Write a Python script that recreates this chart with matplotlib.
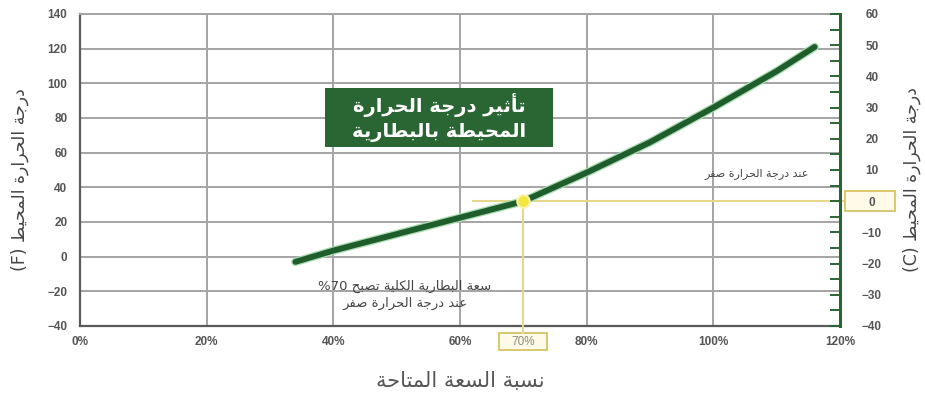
import matplotlib
matplotlib.use('Agg')
import matplotlib.pyplot as plt
import matplotlib.patheffects as pe
from matplotlib.patches import Rectangle
from matplotlib.transforms import blended_transform_factory
from matplotlib.ticker import MultipleLocator

# available capacity (%) vs ambient temperature (F)
capacity = [34, 40, 50, 60, 70, 80, 90, 100, 110, 116]
temp_f = [-3, 3.5, 13, 22.5, 32, 48.5, 66, 86, 107, 121]

x_ticks = [0, 20, 40, 60, 80, 100, 120]
f_ticks = list(range(-40, 141, 20))
c_ticks = list(range(-40, 61, 10))

mark_capacity = 70
mark_temp_c = 0
mark_temp_f = mark_temp_c * 9 / 5 + 32

title_lines = ['تأثير درجة الحرارة', 'المحيطة بالبطارية']
ylabel_f = 'درجة الحرارة المحيط (F)'
ylabel_c = 'درجة الحرارة المحيط (C)'
xlabel = 'نسبة السعة المتاحة'
note_right = 'عند درجة الحرارة صفر'
note_low = ['سعة البطارية الكلية تصبح %70', 'عند درجة الحرارة صفر']

# --- minimal arabic shaping (matplotlib has no bidi/joining) ---
# letter -> (first presentation form, number of forms)
FORMS = {
    '\u0621': (0xFE80, 1), '\u0622': (0xFE81, 2), '\u0623': (0xFE83, 2), '\u0624': (0xFE85, 2),
    '\u0625': (0xFE87, 2), '\u0626': (0xFE89, 4), '\u0627': (0xFE8D, 2), '\u0628': (0xFE8F, 4),
    '\u0629': (0xFE93, 2), '\u062A': (0xFE95, 4), '\u062B': (0xFE99, 4), '\u062C': (0xFE9D, 4),
    '\u062D': (0xFEA1, 4), '\u062E': (0xFEA5, 4), '\u062F': (0xFEA9, 2), '\u0630': (0xFEAB, 2),
    '\u0631': (0xFEAD, 2), '\u0632': (0xFEAF, 2), '\u0633': (0xFEB1, 4), '\u0634': (0xFEB5, 4),
    '\u0635': (0xFEB9, 4), '\u0636': (0xFEBD, 4), '\u0637': (0xFEC1, 4), '\u0638': (0xFEC5, 4),
    '\u0639': (0xFEC9, 4), '\u063A': (0xFECD, 4), '\u0641': (0xFED1, 4), '\u0642': (0xFED5, 4),
    '\u0643': (0xFED9, 4), '\u0644': (0xFEDD, 4), '\u0645': (0xFEE1, 4), '\u0646': (0xFEE5, 4),
    '\u0647': (0xFEE9, 4), '\u0648': (0xFEED, 2), '\u0649': (0xFEEF, 2), '\u064A': (0xFEF1, 4),
}
LAM_ALEF = {'\u0622': 0xFEF5, '\u0623': 0xFEF7, '\u0625': 0xFEF9, '\u0627': 0xFEFB}


def shape_word(word):
    out = []
    i = 0
    while i < len(word):
        ch = word[i]
        if ch not in FORMS:
            out.append(ch)
            i += 1
            continue
        prev = word[i - 1] if i > 0 else None
        nxt = word[i + 1] if i + 1 < len(word) else None
        joins_prev = prev in FORMS and FORMS[prev][1] == 4
        if ch == '\u0644' and nxt in LAM_ALEF:
            out.append(chr(LAM_ALEF[nxt] + (1 if joins_prev else 0)))
            i += 2
            continue
        base, n = FORMS[ch]
        joins_next = n == 4 and nxt in FORMS and FORMS[nxt][1] > 1
        if n == 1:
            off = 0
        elif joins_prev and joins_next:
            off = 3
        elif joins_next:
            off = 2
        elif joins_prev:
            off = 1
        else:
            off = 0
        out.append(chr(base + off))
        i += 1
    return ''.join(out)


def ar(text):
    words = []
    for w in reversed(text.split(' ')):
        if any(c in FORMS for c in w):
            words.append(shape_word(w)[::-1])
        else:
            words.append(w)
    return ' '.join(words)


GREEN = '#2a6634'
GRID = '#a4a4a4'
TICK_COLOR = '#555555'

plt.rcParams['font.family'] = ['DejaVu Sans']

fig = plt.figure(figsize=(9.25, 3.97), dpi=100)
ax = fig.add_axes([80 / 925, 1 - 326 / 397, 760 / 925, 312 / 397])
ax.set_xlim(0, 120)
ax.set_ylim(-40, 140)
ax.set_xticks(x_ticks)
ax.set_xticklabels([f'{v}%' for v in x_ticks])
ax.set_yticks(f_ticks)
ax.grid(color=GRID, lw=1.4)
ax.set_axisbelow(True)
ax.tick_params(length=0, labelsize=8.5, labelcolor=TICK_COLOR)
ax.tick_params(axis='y', pad=9)
ax.tick_params(axis='x', pad=7)
for lbl in ax.get_xticklabels() + ax.get_yticklabels():
    lbl.set_fontweight('bold')
    lbl.set_family('Liberation Sans')

ax.spines['top'].set_color(GRID)
ax.spines['top'].set_linewidth(1.4)
ax.spines['left'].set_color('#5a5a5a')
ax.spines['left'].set_linewidth(1.6)
ax.spines['bottom'].set_color('#5a5a5a')
ax.spines['bottom'].set_linewidth(1.6)
ax.spines['right'].set_visible(False)

# celsius scale on the right
ax2 = ax.twinx()
ax2.set_ylim(-40, 60)
ax2.set_yticks(c_ticks)
ax2.yaxis.set_minor_locator(MultipleLocator(5))
ax2.tick_params(which='both', direction='in', length=7, width=1.4, color=GREEN)
ax2.tick_params(axis='y', pad=23, labelsize=8.5, labelcolor=TICK_COLOR)
for lbl in ax2.get_yticklabels():
    lbl.set_ha('center')
    lbl.set_fontweight('bold')
    lbl.set_family('Liberation Sans')
for side in ['top', 'left', 'bottom']:
    ax2.spines[side].set_visible(False)
ax2.spines['right'].set_color(GREEN)
ax2.spines['right'].set_linewidth(2.2)

# capacity curve
ax.plot(capacity, temp_f, color='#1f5d2c', lw=4.2, solid_capstyle='round', zorder=4,
        path_effects=[pe.Stroke(linewidth=6, foreground='#a6dcae'), pe.Normal()])

# guide lines for the zero-degree point
ax.plot([62, 120.8], [mark_temp_f, mark_temp_f], color='#e6d78c', lw=1.5, clip_on=False, zorder=3)
ax.plot([mark_capacity, mark_capacity], [mark_temp_f, -44], color='#e6d78c', lw=1.5,
        clip_on=False, zorder=3)
ax.plot(mark_capacity, mark_temp_f, 'o', ms=9, mfc='#f3e63c', mec='#faf2a6', mew=1.5, zorder=6)

# boxed labels for 70% and 0 C
tr_x = blended_transform_factory(ax.transData, ax.transAxes)
ax.add_patch(Rectangle((mark_capacity - 3.8, -0.077), 7.6, 0.055, transform=tr_x, clip_on=False,
                       fc='#fffbe8', ec='#d8c462', lw=1.3))
ax.text(mark_capacity, -0.05, f'{mark_capacity}%', transform=tr_x, ha='center', va='center',
        fontsize=8.5, color='#8a8a80', family='Liberation Sans')
tr_c = blended_transform_factory(ax2.transAxes, ax2.transData)
ax2.add_patch(Rectangle((1.0066, mark_temp_c - 3.2), 0.0658, 6.4, transform=tr_c, clip_on=False,
                        fc='#fffbe8', ec='#d8c462', lw=1.3, zorder=0.5))

# title box
ax.add_patch(Rectangle((38.7, 63.3), 36, 34, fc=GREEN, ec='none', zorder=5))
ax.text(56.7, 80.3, '\n'.join(ar(t) for t in title_lines), ha='center', va='center',
        color='white', fontsize=14, fontweight='bold', linespacing=1.3, zorder=6)

ax.text(115, 47.7, ar(note_right), ha='right', va='center', fontsize=8, color='#444444')
ax.text(51.3, -22, '\n'.join(ar(t) for t in note_low), ha='center', va='center',
        fontsize=9.5, color='#444444', linespacing=1.35)

fig.text(460 / 925, 1 - 381 / 397, ar(xlabel), ha='center', va='center', fontsize=15,
         color='#555555')
fig.text(20 / 925, 1 - 180 / 397, ar(ylabel_f), ha='center', va='center', rotation=90,
         fontsize=12.5, color='#444444')
fig.text(912 / 925, 1 - 180 / 397, ar(ylabel_c), ha='center', va='center', rotation=90,
         fontsize=12.5, color='#444444')

fig.savefig('out.png', dpi=100)
